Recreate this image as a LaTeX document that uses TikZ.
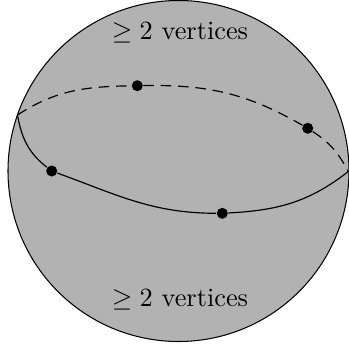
\documentclass[tikz,border=0pt]{standalone}
\begin{document}
\begin{tikzpicture}[x=0.38pt,y=0.38pt,
  dot/.style={circle,fill=black,inner sep=0pt,minimum size=4.2pt},
  lbl/.style={inner sep=0pt},
  curve/.style={line width=0.45pt},
  dashcurve/.style={line width=0.45pt,dash pattern=on 4pt off 2.6pt}]
\useasboundingbox (0,0) rectangle (349,347);
\node[circle,draw=black,fill=gray!60,line width=0.4pt,minimum size=341*0.38pt,inner sep=0pt] (S) at (178.5,176) {};
\coordinate (L) at (17.5,232);
\coordinate (R) at (348.3,175.5);
\node[dot] (A) at (51.7,176) {};
\node[dot] (B) at (222.3,133.7) {};
\node[dot] (C) at (137.3,261.3) {};
\node[dot] (D) at (307.7,218.7) {};
\draw[curve] (L) to[out=-80,in=142] (A) to[out=-20,in=180] (B) to[out=3,in=218] (R);
\draw[dashcurve] (L) to[out=33,in=181] (C) to[out=1,in=150] (D) to[out=-33,in=118] (R);
\node[lbl] (T1) at (180,314) {$\geq 2$ vertices};
\node[lbl] (T2) at (180,47) {$\geq 2$ vertices};
\end{tikzpicture}
\end{document}
